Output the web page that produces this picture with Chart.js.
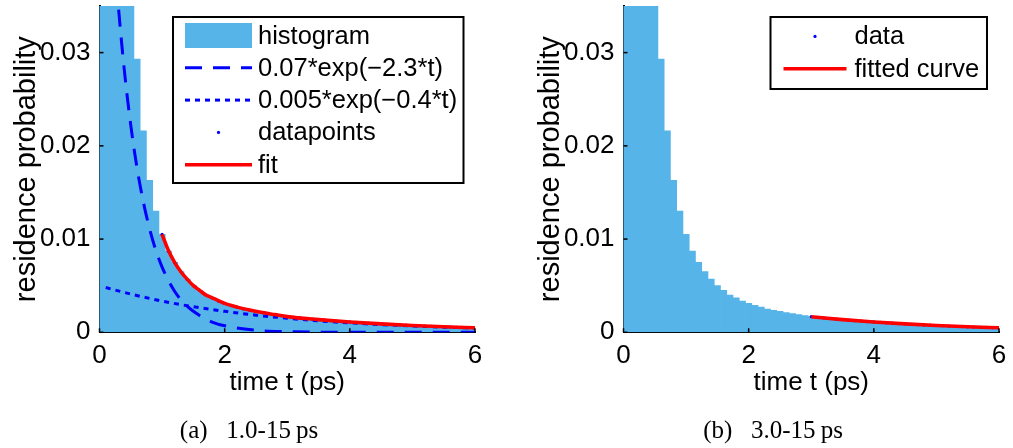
<!DOCTYPE html>
<html>
<head>
<meta charset="utf-8">
<script src="https://cdn.jsdelivr.net/npm/chart.js@4.4.1/dist/chart.umd.min.js"></script>
<style>
  body { margin: 0; background: #fff; width: 1013px; height: 448px; position: relative; overflow: hidden; }
  canvas { position: absolute; top: 0; }
  #left { left: 0; }
  #right { left: 524px; }
</style>
</head>
<body>
<canvas id="left" width="500" height="448"></canvas>
<canvas id="right" width="500" height="448"></canvas>
<script>
// histogram, bin centres (ps) and residence probability
let binCenters = [0, 0.1, 0.2, 0.3, 0.4, 0.5, 0.6, 0.7, 0.8, 0.9,
  1.0, 1.1, 1.2, 1.3, 1.4, 1.5, 1.6, 1.7, 1.8, 1.9,
  2.0, 2.1, 2.2, 2.3, 2.4, 2.5, 2.6, 2.7, 2.8, 2.9,
  3.0, 3.1, 3.2, 3.3, 3.4, 3.5, 3.6, 3.7, 3.8, 3.9,
  4.0, 4.1, 4.2, 4.3, 4.4, 4.5, 4.6, 4.7, 4.8, 4.9,
  5.0, 5.1, 5.2, 5.3, 5.4, 5.5, 5.6, 5.7, 5.8, 5.9, 6.0];
let histValues = [0.21, 0.18, 0.14, 0.10, 0.068, 0.043, 0.0293, 0.0216, 0.0163, 0.0130,
  0.0105, 0.0087, 0.0075, 0.0065, 0.0057, 0.0050, 0.0045, 0.0040, 0.0037, 0.00335,
  0.0031, 0.0029, 0.0027, 0.0025, 0.00236, 0.00225, 0.00211, 0.0020, 0.0019, 0.00179,
  0.00168, 0.00161, 0.00154, 0.00148, 0.00142, 0.00136, 0.00131, 0.00125, 0.00120, 0.00115,
  0.00111, 0.00106, 0.00102, 0.00098, 0.00094, 0.00090, 0.00086, 0.00083, 0.00079, 0.00076,
  0.00073, 0.00070, 0.00067, 0.00064, 0.00062, 0.00059, 0.00057, 0.00054, 0.00052, 0.00050, 0.00048];

// (a) fast component 0.07*exp(-2.3*t)
let fastT = [0.1, 0.2, 0.3, 0.4, 0.5, 0.6, 0.7, 0.8, 0.9, 1.0, 1.2, 1.4, 1.6, 1.8, 2.0, 2.5, 3.0, 3.5, 4.0, 5.0, 6.0];
let fastValues = [0.0556, 0.0442, 0.0351, 0.0279, 0.0222, 0.0176, 0.0140, 0.0111, 0.0088, 0.0070,
  0.0044, 0.0028, 0.0018, 0.0011, 0.0007, 0.00022, 0.00007, 0.00002, 0.00001, 0, 0];

// (a) slow component 0.005*exp(-0.4*t)
let slowT = [0.1, 0.5, 1.0, 1.5, 2.0, 2.5, 3.0, 3.5, 4.0, 4.5, 5.0, 5.5, 6.0];
let slowValues = [0.0048, 0.0041, 0.00335, 0.00274, 0.00225, 0.00184, 0.00151, 0.00123, 0.00101, 0.00083, 0.00068, 0.00055, 0.00045];

// (a) fit from 1.0 ps
let fitAT = [1.0, 1.1, 1.2, 1.3, 1.4, 1.5, 1.6, 1.7, 1.8, 1.9, 2.0, 2.2, 2.4, 2.6, 2.8, 3.0, 3.5, 4.0, 4.5, 5.0, 5.5, 6.0];
let fitAValues = [0.0105, 0.0088, 0.0075, 0.0065, 0.0057, 0.0050, 0.0045, 0.0040, 0.0037, 0.0034, 0.0031,
  0.0027, 0.00238, 0.00212, 0.0019, 0.00168, 0.00136, 0.0011, 0.0009, 0.00073, 0.00059, 0.00048];

// (b) fitted curve from 3.0 ps
let fitBT = [3.0, 3.5, 4.0, 4.5, 5.0, 5.5, 6.0];
let fitBValues = [0.00167, 0.00136, 0.00110, 0.00090, 0.00073, 0.00059, 0.00048];

let yTicks = [0, 0.01, 0.02, 0.03];
let xTicks = [0, 2, 4, 6];

const SANS = "'Liberation Sans', Arial, sans-serif";
Chart.defaults.font.family = SANS;
Chart.defaults.font.size = 26;
Chart.defaults.color = '#000';

const pts = (xs, ys) => xs.map((x, i) => ({x: x, y: ys[i]}));

// legend drawn inside the axes with a box, like the matlab one
const boxLegend = {
  id: 'boxLegend',
  afterDraw(chart, args, o) {
    const ctx = chart.ctx, a = chart.chartArea;
    const bx = a.left + o.x, by = a.top + o.y;
    ctx.save();
    ctx.fillStyle = '#fff';
    ctx.fillRect(bx, by, o.w, o.h);
    ctx.lineWidth = 2;
    ctx.strokeStyle = '#000';
    ctx.strokeRect(bx, by, o.w, o.h);
    o.items.forEach((it, i) => {
      const ds = chart.data.datasets[it];
      const cy = by + o.first + i * o.step;
      const x0 = bx + o.sx0, x1 = bx + o.sx1;
      if (ds.type === 'bar') {
        ctx.fillStyle = ds.backgroundColor;
        ctx.fillRect(x0, cy - 12.5, x1 - x0, 25);
      } else if (ds.showLine === false) {
        ctx.fillStyle = ds.pointBackgroundColor;
        ctx.beginPath();
        ctx.arc((x0 + x1) / 2, cy, ds.pointRadius, 0, Math.PI * 2);
        ctx.fill();
      } else {
        ctx.strokeStyle = ds.borderColor;
        ctx.lineWidth = ds.borderWidth;
        ctx.setLineDash(ds.borderDash || []);
        ctx.beginPath();
        ctx.moveTo(x0, cy);
        ctx.lineTo(x1, cy);
        ctx.stroke();
        ctx.setLineDash([]);
      }
      ctx.fillStyle = '#000';
      ctx.font = '25.5px ' + SANS;
      ctx.textBaseline = 'middle';
      ctx.fillText(ds.label, bx + o.tx, cy + 1);
    });
    ctx.restore();
  }
};

// small inward tick marks
const inTicks = {
  id: 'inTicks',
  afterDatasetsDraw(chart) {
    const ctx = chart.ctx, a = chart.chartArea;
    ctx.save();
    ctx.strokeStyle = '#000';
    ctx.lineWidth = 1.5;
    yTicks.forEach(v => {
      const y = chart.scales.y.getPixelForValue(v);
      ctx.beginPath(); ctx.moveTo(a.left, y); ctx.lineTo(a.left + 4, y); ctx.stroke();
    });
    xTicks.forEach(v => {
      const x = chart.scales.x.getPixelForValue(v);
      ctx.beginPath(); ctx.moveTo(x, a.bottom); ctx.lineTo(x, a.bottom - 4); ctx.stroke();
    });
    ctx.restore();
  }
};

// sub-figure caption under the axes
const caption = {
  id: 'caption',
  afterDraw(chart, args, o) {
    const ctx = chart.ctx;
    ctx.save();
    ctx.fillStyle = '#000';
    ctx.font = "25px 'Liberation Serif', 'Times New Roman', serif";
    ctx.textAlign = 'center';
    ctx.textBaseline = 'middle';
    ctx.fillText(o.text, o.cx, o.cy);
    ctx.restore();
  }
};

function histSet() {
  return {
    type: 'bar', label: 'histogram', data: pts(binCenters, histValues),
    backgroundColor: '#56B4E9', borderWidth: 0,
    barPercentage: 1, categoryPercentage: 1, order: 10
  };
}

function dotsSet(label, from) {
  return {
    type: 'line', label: label,
    data: pts(binCenters.slice(from), histValues.slice(from)),
    showLine: false, pointRadius: 1.6, pointBackgroundColor: '#0000ff',
    pointBorderWidth: 0, order: 2
  };
}

function curveSet(label, xs, ys, color, width, dash, order) {
  return {
    type: 'line', label: label, data: pts(xs, ys),
    borderColor: color, borderWidth: width, borderDash: dash,
    pointRadius: 0, cubicInterpolationMode: 'monotone', fill: false, order: order
  };
}

function makeOptions(captionText, legend) {
  return {
    responsive: false,
    animation: false,
    layout: { padding: { top: 6, right: 25, bottom: 54, left: 0 } },
    scales: {
      x: {
        type: 'linear', min: 0, max: 6, offset: false, z: 1,
        grid: { display: true, drawOnChartArea: false, drawTicks: false },
        border: { display: true, color: '#000', width: 2 },
        ticks: { stepSize: 2, padding: 11, font: { size: 26, lineHeight: 1 } },
        title: { display: true, text: 'time t (ps)', font: { size: 26, lineHeight: 1 }, padding: { top: 0, bottom: -2 } },
        afterFit(s) { s.height = 61.7; }
      },
      y: {
        min: 0, max: 0.035, z: 1,
        grid: { display: true, drawOnChartArea: false, drawTicks: false },
        border: { display: true, color: '#000', width: 2 },
        ticks: { stepSize: 0.01, includeBounds: false, padding: 9, font: { size: 26 } },
        title: { display: true, text: 'residence probability', font: { size: 29, lineHeight: 1 }, padding: { top: 12, bottom: 0 } },
        afterFit(s) { s.width = 99.5; s.paddingTop = 0; }
      }
    },
    plugins: {
      legend: { display: false },
      tooltip: { enabled: false },
      title: { display: false },
      boxLegend: legend,
      caption: { text: captionText, cx: 249, cy: 431 }
    }
  };
}

new Chart(document.getElementById('left'), {
  type: 'bar',
  data: {
    datasets: [
      histSet(),
      curveSet('0.07*exp(\u22122.3*t)', fastT, fastValues, '#0000ff', 3, [17, 11], 4),
      curveSet('0.005*exp(\u22120.4*t)', slowT, slowValues, '#0000ff', 3, [5, 5], 3),
      dotsSet('datapoints', 10),
      curveSet('fit', fitAT, fitAValues, '#ff0000', 3.6, [], 1)
    ]
  },
  options: makeOptions('(a)\u2002 1.0-15\u2009ps',
    { x: 73.5, y: 11, w: 290.5, h: 166, first: 18.5, step: 32.3, sx0: 12, sx1: 79, tx: 85, items: [0, 1, 2, 3, 4] }),
  plugins: [boxLegend, inTicks, caption]
});

new Chart(document.getElementById('right'), {
  type: 'bar',
  data: {
    datasets: [
      histSet(),
      dotsSet('data', 30),
      curveSet('fitted curve', fitBT, fitBValues, '#ff0000', 3.6, [], 1)
    ]
  },
  options: makeOptions('(b)\u2002 3.0-15\u2009ps',
    { x: 147, y: 11, w: 216.5, h: 72, first: 19.4, step: 32.3, sx0: 13, sx1: 76, tx: 84, items: [1, 2] }),
  plugins: [boxLegend, inTicks, caption]
});
</script>
</body>
</html>
